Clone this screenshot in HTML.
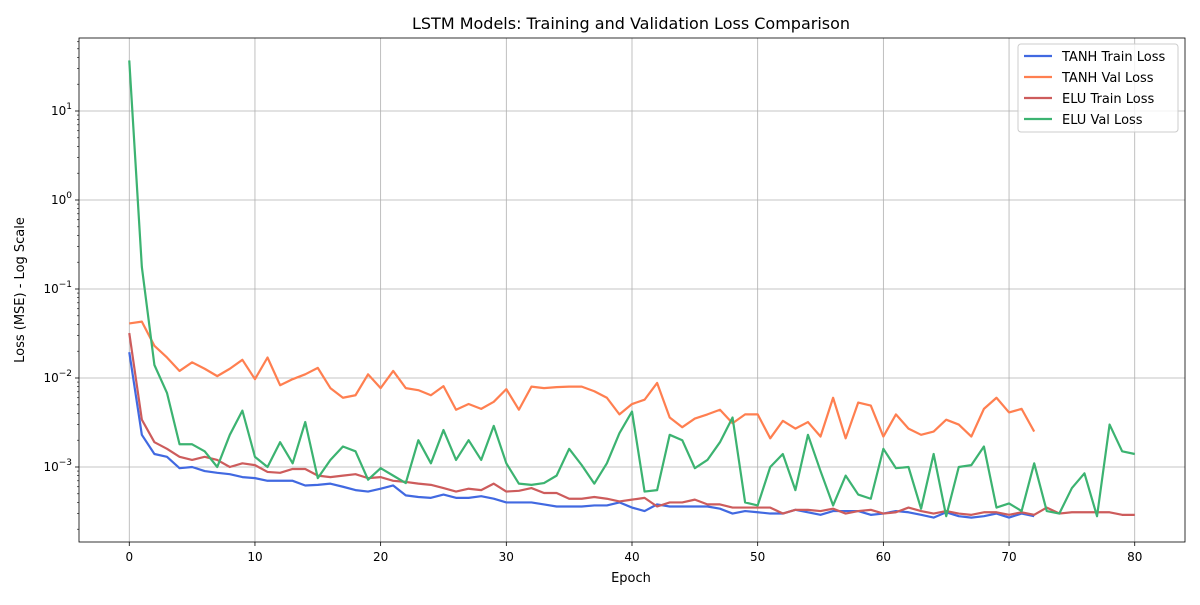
<!DOCTYPE html>
<html><head><meta charset="utf-8">
<style>
html,body{margin:0;padding:0;background:#fff;}
svg text{font-family:"DejaVu Sans","Liberation Sans",sans-serif;fill:#000;}
</style></head>
<body>
<svg id="chart" width="1200" height="600" xmlns="http://www.w3.org/2000/svg">
<rect width="1200" height="600" fill="#fff"/>
<g id="grid"></g>
<g id="series"></g>
<g id="axes"></g>
<text x="631" y="29" font-size="16" text-anchor="middle">LSTM Models: Training and Validation Loss Comparison</text>
<text x="631" y="582" font-size="13" text-anchor="middle">Epoch</text>
<text x="0" y="0" font-size="13" text-anchor="middle" transform="translate(24,290) rotate(-90)">Loss (MSE) - Log Scale</text>
<g id="legend"></g>
</svg>
<script>
const xTicks=[0,10,20,30,40,50,60,70,80];
const yTickExps=[-3,-2,-1,0,1];
const seriesNames=["TANH Train Loss","TANH Val Loss","ELU Train Loss","ELU Val Loss"];
const seriesColors=["#4169e1","#ff7f50","#cd5c5c","#3cb371"];
const tanhTrain=[0.0195,0.0023,0.0014,0.0013,0.00097,0.001,0.0009,0.00086,0.00083,0.00077,0.00075,0.0007,0.0007,0.0007,0.00062,0.00063,0.00065,0.0006,0.00055,0.00053,0.00057,0.00062,0.00048,0.00046,0.00045,0.00049,0.00045,0.00045,0.00047,0.00044,0.0004,0.0004,0.0004,0.00038,0.00036,0.00036,0.00036,0.00037,0.00037,0.0004,0.00035,0.00032,0.00038,0.00036,0.00036,0.00036,0.00036,0.00034,0.0003,0.00032,0.00031,0.0003,0.0003,0.00033,0.00031,0.00029,0.00032,0.00032,0.00032,0.00029,0.0003,0.00032,0.00031,0.00029,0.00027,0.00031,0.00028,0.00027,0.00028,0.0003,0.00027,0.0003,0.00028];
const tanhVal=[0.041,0.043,0.023,0.017,0.012,0.015,0.0127,0.0105,0.0127,0.016,0.0097,0.017,0.0083,0.0097,0.011,0.013,0.0077,0.006,0.0064,0.011,0.0077,0.012,0.0077,0.0073,0.0064,0.0081,0.0044,0.0051,0.0045,0.0054,0.0075,0.0044,0.008,0.0077,0.0079,0.008,0.008,0.0071,0.006,0.0039,0.0051,0.0057,0.0088,0.0036,0.0028,0.0035,0.0039,0.0044,0.0031,0.0039,0.0039,0.0021,0.0033,0.0027,0.0032,0.0022,0.006,0.0021,0.0053,0.0049,0.0022,0.0039,0.0027,0.0023,0.0025,0.0034,0.003,0.0022,0.0045,0.006,0.0041,0.0045,0.0025];
const eluTrain=[0.032,0.0034,0.0019,0.0016,0.0013,0.0012,0.0013,0.0012,0.001,0.0011,0.00105,0.00088,0.00086,0.00095,0.00095,0.0008,0.00077,0.0008,0.00083,0.00075,0.00077,0.0007,0.00068,0.00065,0.00063,0.00058,0.00053,0.00057,0.00055,0.00065,0.00053,0.00054,0.00058,0.00051,0.00051,0.00044,0.00044,0.00046,0.00044,0.00041,0.00043,0.00045,0.00036,0.0004,0.0004,0.00043,0.00038,0.00038,0.00035,0.00035,0.00035,0.00035,0.0003,0.00033,0.00033,0.00032,0.00034,0.0003,0.00032,0.00033,0.0003,0.00031,0.00035,0.00032,0.0003,0.00032,0.0003,0.00029,0.00031,0.00031,0.00029,0.00031,0.00029,0.00035,0.0003,0.00031,0.00031,0.00031,0.00031,0.00029,0.00029];
const eluVal=[37,0.177,0.014,0.0068,0.0018,0.0018,0.0015,0.001,0.0023,0.0043,0.0013,0.001,0.0019,0.0011,0.0032,0.00075,0.0012,0.0017,0.0015,0.00072,0.00097,0.0008,0.00066,0.002,0.0011,0.0026,0.0012,0.002,0.0012,0.0029,0.0011,0.00065,0.00063,0.00066,0.0008,0.0016,0.00105,0.00065,0.0011,0.0024,0.0042,0.00053,0.00055,0.0023,0.002,0.00097,0.0012,0.0019,0.0036,0.0004,0.00037,0.001,0.0014,0.00055,0.0023,0.0009,0.00037,0.0008,0.00049,0.00044,0.0016,0.00097,0.001,0.00034,0.0014,0.00028,0.001,0.00105,0.0017,0.00035,0.00039,0.00032,0.0011,0.00032,0.0003,0.00058,0.00085,0.00028,0.003,0.0015,0.0014];
const allSeries=[tanhTrain,tanhVal,eluTrain,eluVal];

const L=79,R=1185,T=38,B=542;
const xMin=-4,xMax=84;
const lMin=(200-542)/89, lMax=(200-38)/89;
const xs=v=>L+(v-xMin)/(xMax-xMin)*(R-L);
const ys=v=>B-(Math.log10(v)-lMin)/(lMax-lMin)*(B-T);
const NS="http://www.w3.org/2000/svg";
function mk(tag,parent,attrs){const e=document.createElementNS(NS,tag);for(const k in attrs)e.setAttribute(k,attrs[k]);parent.appendChild(e);return e;}
const grid=document.getElementById('grid'),axes=document.getElementById('axes'),ser=document.getElementById('series'),leg=document.getElementById('legend');

xTicks.forEach(t=>{const x=xs(t);
 const g=mk('line',grid,{x1:x,x2:x,y1:T,y2:B,stroke:'#b0b0b0','stroke-width':0.8});
 
 
 mk('line',axes,{x1:x,x2:x,y1:B,y2:B+4,stroke:'#000','stroke-width':0.8});
 const tx=mk('text',axes,{x:x,y:B+19,'font-size':12,'text-anchor':'middle'});tx.textContent=t;
 
 
});
yTickExps.forEach(e=>{const y=ys(Math.pow(10,e));
 const g=mk('line',grid,{x1:L,x2:R,y1:y,y2:y,stroke:'#b0b0b0','stroke-width':0.8});
 
 
 mk('line',axes,{x1:L-4,x2:L,y1:y,y2:y,stroke:'#000','stroke-width':0.8});
 const tx=mk('text',axes,{x:L-7,y:y+4,'font-size':12,'text-anchor':'end'});
 tx.textContent='10';const s=mk('tspan',tx,{dy:-6,'font-size':9});s.textContent=String(e).replace('-','\u2212');
 
 
});
for(let e=-4;e<=1;e++)for(let m=2;m<=9;m++){const v=m*Math.pow(10,e);const y=ys(v);if(y<T||y>B)continue;
 mk('line',axes,{x1:L-2,x2:L,y1:y,y2:y,stroke:'#000','stroke-width':0.6});}

allSeries.forEach((d,i)=>{
 const p=mk('polyline',ser,{points:d.map((v,k)=>xs(k)+','+ys(v)).join(' '),fill:'none',stroke:seriesColors[i],'stroke-width':2.2,'stroke-linejoin':'round'});
 
 
});
const fr=mk('rect',axes,{x:L,y:T,width:R-L,height:B-T,fill:'none',stroke:'#000','stroke-width':0.8});



const lb=mk('rect',leg,{x:1018,y:44,width:160,height:88,rx:3,fill:'#fff','fill-opacity':0.8,stroke:'#ccc'});


seriesNames.forEach((n,i)=>{const y=56+i*21;
 mk('line',leg,{x1:1024,x2:1052,y1:y,y2:y,stroke:seriesColors[i],'stroke-width':2.2});
 const t=mk('text',leg,{x:1062,y:y+5,'font-size':13});t.textContent=n;
 
 
});
</script>
</body></html>
